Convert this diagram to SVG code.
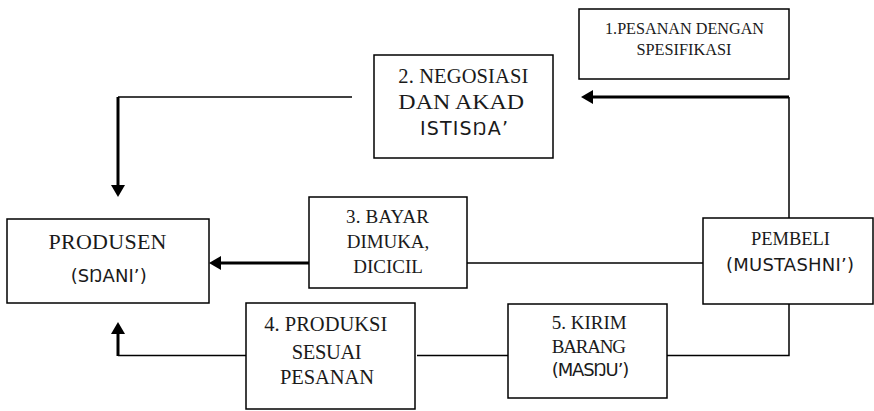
<svg xmlns="http://www.w3.org/2000/svg" width="874" height="411" viewBox="0 0 874 411">
  <style>
    .box { fill: #ffffff; stroke: #000000; stroke-width: 1.5; }
    .serif { font-family: "Liberation Serif", "Times New Roman", serif; fill: #1a1a1a; text-anchor: middle; }
    .sans { font-family: "DejaVu Sans", "Noto Sans", sans-serif; fill: #1a1a1a; text-anchor: middle; font-size: 18px; }
    .eng { font-family: "Liberation Sans", "Noto Sans", sans-serif; }
    .thin { fill: none; stroke: #000000; stroke-width: 1.5; }
    .thick { fill: none; stroke: #000000; stroke-width: 3; }
  </style>
  <defs>
    <!-- arrowhead placed after the end of a path (refX = 0) -->
    <marker id="head" viewBox="0 0 12 14" refX="0" refY="7" markerWidth="12" markerHeight="14" markerUnits="userSpaceOnUse" orient="auto">
      <path d="M0,0 L12,7 L0,14 Z" fill="#000000"/>
    </marker>
  </defs>

  <rect width="874" height="411" fill="#ffffff"/>

  <!-- connectors -->
  <g id="connectors">
    <!-- buyer up to order line, arrow into negotiation -->
    <path class="thin" d="M789,218 V97"/>
    <path class="thick" d="M789,97 H593" marker-end="url(#head)"/>
    <!-- negotiation down to producer -->
    <path class="thin" d="M352,97 H118"/>
    <path class="thick" d="M118,97 V185" marker-end="url(#head)"/>
    <!-- payment from buyer to producer -->
    <path class="thin" d="M703,263 H467"/>
    <path class="thick" d="M309,263 H221" marker-end="url(#head)"/>
    <!-- delivery from buyer through production to producer -->
    <path class="thin" d="M789,304 V355.5 H667"/>
    <path class="thin" d="M508,355.5 H417"/>
    <path class="thin" d="M246,355.5 H118"/>
    <path class="thick" d="M118,356 V334" marker-end="url(#head)"/>
  </g>

  <g id="pesanan">
    <rect class="box" x="579" y="9" width="210" height="70"/>
    <text class="serif" font-size="16" x="684.5" y="34" textLength="159" lengthAdjust="spacingAndGlyphs">1.PESANAN DENGAN</text>
    <text class="serif" font-size="16" x="684" y="55" textLength="95" lengthAdjust="spacingAndGlyphs">SPESIFIKASI</text>
  </g>

  <g id="negosiasi">
    <rect class="box" x="374" y="55" width="179" height="103"/>
    <text class="serif" font-size="20.5" x="463.3" y="83.3" textLength="130">2. NEGOSIASI</text>
    <text class="serif" font-size="20.5" x="461.2" y="109.3" textLength="125.7" lengthAdjust="spacingAndGlyphs">DAN AKAD</text>
    <text class="sans" x="464" y="135" textLength="88" style="font-size:19px">ISTIS<tspan class="eng">Ŋ</tspan>A’</text>
  </g>

  <g id="produsen">
    <rect class="box" x="7" y="219" width="202" height="84"/>
    <text class="serif" font-size="22" x="107.5" y="249.3" textLength="118">PRODUSEN</text>
    <text class="sans" x="108.7" y="281.7" textLength="76">(S<tspan class="eng">Ŋ</tspan>ANI’)</text>
  </g>

  <g id="bayar">
    <rect class="box" x="309" y="197" width="158" height="91"/>
    <text class="serif" font-size="19" x="387.5" y="223.3" textLength="83">3. BAYAR</text>
    <text class="serif" font-size="19" x="388" y="248.3" textLength="82.6">DIMUKA,</text>
    <text class="serif" font-size="19" x="388" y="273.3">DICICIL</text>
  </g>

  <g id="pembeli">
    <rect class="box" x="703" y="218" width="170" height="86"/>
    <text class="serif" font-size="18.5" x="790.5" y="245" textLength="79">PEMBELI</text>
    <text class="sans" x="790" y="270.7" textLength="128">(MUSTASHNI’)</text>
  </g>

  <g id="produksi">
    <rect class="box" x="246" y="303" width="169" height="106"/>
    <text class="serif" font-size="20.5" x="325.8" y="331" textLength="123">4. PRODUKSI</text>
    <text class="serif" font-size="20.5" x="326.7" y="359" textLength="70">SESUAI</text>
    <text class="serif" font-size="20.5" x="327" y="384.3" textLength="94">PESANAN</text>
  </g>

  <g id="kirim">
    <rect class="box" x="508" y="304" width="159" height="94"/>
    <text class="serif" font-size="19" x="589.2" y="329.3" textLength="75">5. KIRIM</text>
    <text class="serif" font-size="19" x="588.8" y="353.3" textLength="74.3">BARANG</text>
    <text class="sans" x="590.5" y="376" textLength="77.6">(MAS<tspan class="eng">Ŋ</tspan>U’)</text>
  </g>
</svg>
